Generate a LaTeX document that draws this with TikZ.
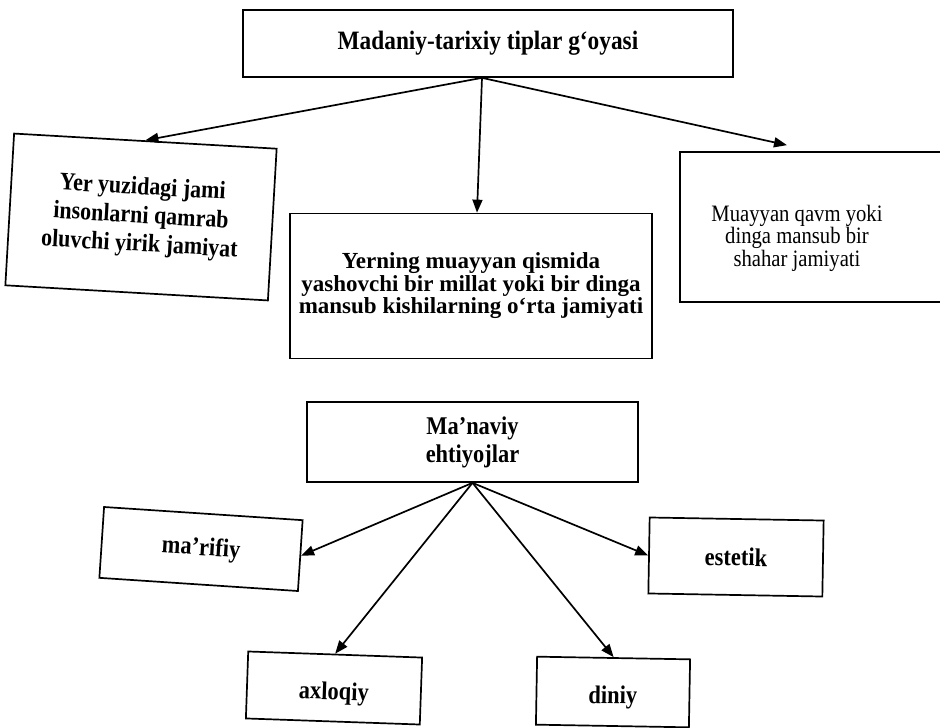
\documentclass[tikz,border=0pt]{standalone}
\usepackage{fontspec}
\setmainfont{Liberation Serif}
\newfontfamily\tallfont{Liberation Serif}[FakeStretch=0.88]
\usetikzlibrary{arrows.meta}
\begin{document}
\begin{tikzpicture}[x=1pt,y=-1pt,
  box/.style={draw, line width=1.7pt, inner sep=0pt, align=center},
  txt/.style={inner sep=0pt, align=center},
  arr/.style={line width=1.7pt, -{Triangle[length=13pt,width=10pt]}},
  bigb/.style={font=\tallfont\fontsize{25}{28.5}\selectfont\bfseries},
  lowb/.style={font=\tallfont\fontsize{25.5}{28}\selectfont\bfseries},
  lowtext/.style={text height=29pt, text depth=6pt}]
\useasboundingbox (0,0) rectangle (940,728);
\fill[white] (0,0) rectangle (940,728);

% upper diagram
\node[box, minimum width=490pt, minimum height=67pt, font=\tallfont\fontsize{26.5}{28}\selectfont\bfseries] (top) at (488,43.5) {Madaniy-tarixiy tiplar g‘oyasi};
\node[box, rotate=-3.3, minimum width=263pt, minimum height=152pt, bigb] (lb) at (141,217) {Yer yuzidagi jami\\insonlarni qamrab\\oluvchi yirik jamiyat};
\node[box, minimum width=362pt, minimum height=145pt, font=\fontsize{23}{22.5}\selectfont\bfseries] (mb) at (471,286) {Yerning muayyan qismida\\yashovchi bir millat yoki bir dinga\\mansub kishilarning o‘rta jamiyati};
\node[box, minimum width=280pt, minimum height=150pt] (rb) at (820,227) {};
\node[txt, font=\tallfont\fontsize{23.5}{22.5}\selectfont] (rbt) at (797,238) {Muayyan qavm yoki\\dinga mansub bir\\shahar jamiyati};

\draw[arr] ([xshift=-6pt]top.south) -- (lb.north);
\draw[arr] ([xshift=-6pt]top.south) -- ([xshift=6pt]mb.north);
\draw[arr] ([xshift=-6pt]top.south) -- ([xshift=-33pt,yshift=6pt]rb.north);

% lower diagram
\node[box, minimum width=331pt, minimum height=80pt, lowb] (mn) at (472.5,442) {Ma’naviy\\ehtiyojlar};
\node[box, rotate=-3.8, minimum width=199pt, minimum height=71pt, lowb] (mf) at (201,549) {ma’rifiy};
\node[box, rotate=-1, minimum width=174pt, minimum height=76pt, lowb] (es) at (736,557) {estetik};
\node[box, rotate=-2, minimum width=174pt, minimum height=67pt, lowb, lowtext] (ax) at (334,688) {axloqiy};
\node[box, rotate=-1, minimum width=153pt, minimum height=68pt, lowb, lowtext] (dn) at (613,692) {diniy};

\draw[arr] (mn.south) -- (mf.east);
\draw[arr] (mn.south) -- (es.west);
\draw[arr] (mn.south) -- (ax.north);
\draw[arr] (mn.south) -- (dn.north);
\end{tikzpicture}
\end{document}
